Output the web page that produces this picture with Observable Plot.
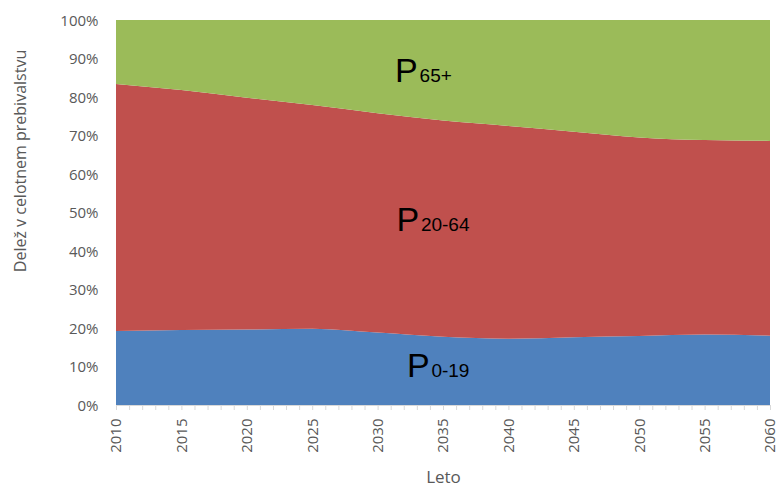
<!DOCTYPE html>
<html>
<head>
<meta charset="utf-8">
<script src="https://cdn.jsdelivr.net/npm/d3@7"></script>
<script src="https://cdn.jsdelivr.net/npm/@observablehq/plot@0.6"></script>
<style>
  html, body { margin: 0; padding: 0; background: #fff; }
</style>
</head>
<body>
<div id="chart"></div>
<script>
// Years
const years = [2010, 2015, 2020, 2025, 2030, 2035, 2040, 2045, 2050, 2055, 2060];
// Shares of total population (%)
const p0_19  = [19.2, 19.5, 19.6, 19.8, 18.8, 17.7, 17.2, 17.6, 17.9, 18.3, 18.0];
const p20_64 = [64.2, 62.3, 60.2, 58.1, 57.0, 56.2, 55.3, 53.4, 51.6, 50.5, 50.6];
const p65    = [16.6, 18.2, 20.2, 22.1, 24.2, 26.1, 27.5, 29.0, 30.5, 31.2, 31.4];
const groups = ["P0-19", "P20-64", "P65+"];
const groupColors = ["#4F81BD", "#C0504D", "#9BBB59"];
const yTicks = [0, 10, 20, 30, 40, 50, 60, 70, 80, 90, 100];
const xLabelTicks = years;
const minorTicks = d3.range(2010, 2061);
// Area labels: subscript text, anchor year, anchor share (baseline)
const labelSubs = ["0-19", "20-64", "65+"];
const labelYears = [2032.2, 2031.4, 2031.3];
const labelShares = [7.5, 45.4, 83.9];

const series = [p0_19, p20_64, p65];
const table = [];
groups.forEach((g, gi) => years.forEach((yr, i) => table.push({year: yr, group: g, value: series[gi][i]})));
const labels = labelSubs.map((s, i) => ({sub: s, x: labelYears[i], y: labelShares[i]}));

const gray = "#595959";
const chart = Plot.plot({
  width: 780,
  height: 488,
  marginLeft: 116,
  marginRight: 10,
  marginTop: 20,
  marginBottom: 83,
  style: {fontFamily: "'Open Sans', sans-serif", background: "#fff"},
  x: {domain: [2010, 2060]},
  y: {domain: [0, 100]},
  color: {domain: groups, range: groupColors},
  marks: [
    Plot.areaY(table, {x: "year", y: "value", fill: "group", order: groups, curve: "monotone-x"}),
    Plot.ruleY([0], {stroke: "#d9d9d9"}),
    Plot.axisX({ticks: minorTicks, tickSize: 5, stroke: "#d9d9d9", tickFormat: () => ""}),
    Plot.axisX({ticks: xLabelTicks, tickSize: 0, tickPadding: 13, tickRotate: -90, tickFormat: d => String(d), fontSize: 15, fill: gray, label: null}),
    Plot.axisY({ticks: yTicks, tickSize: 0, tickPadding: 18, tickFormat: d => d + "%", fontSize: 15, fill: gray, dy: 0.5, label: null}),
    Plot.text(["Delež v celotnem prebivalstvu"], {frameAnchor: "left", rotate: -90, dx: -96, dy: -52, fontSize: 16, fill: gray, textAnchor: "middle"}),
    Plot.text(["Leto"], {frameAnchor: "bottom", dy: 77, lineAnchor: "bottom", fontSize: 17, fill: gray, textAnchor: "middle"}),
    Plot.text(labels, {x: "x", y: "y", text: () => "P", textAnchor: "start", lineAnchor: "bottom", fontSize: 34, fontFamily: "'Liberation Sans', Arial, sans-serif", fill: "#000"}),
    Plot.text(labels, {x: "x", y: "y", text: "sub", dx: 24.5, textAnchor: "start", lineAnchor: "bottom", fontSize: 19, fontFamily: "'Liberation Sans', Arial, sans-serif", fill: "#000"})
  ]
});
document.getElementById("chart").appendChild(chart);
</script>
</body>
</html>
